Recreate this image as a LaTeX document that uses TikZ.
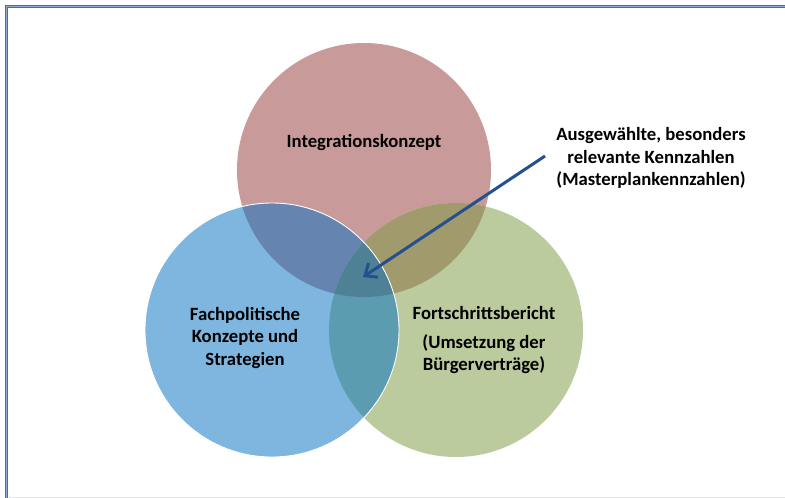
\documentclass[tikz,border=0pt]{standalone}
\usepackage{fontspec}
\setmainfont{Carlito}
\usetikzlibrary{arrows.meta}
\definecolor{cred}{HTML}{C99A9A}
\definecolor{cblue}{HTML}{7EB6DF}
\definecolor{cgreen}{HTML}{BBCB9D}
\definecolor{crb}{HTML}{6584B0}
\definecolor{crg}{HTML}{A19A6C}
\definecolor{cbg}{HTML}{5B9CB1}
\definecolor{crbg}{HTML}{4F8196}
\definecolor{arrowblue}{HTML}{24508E}
\definecolor{framedark}{HTML}{4A6EA3}
\definecolor{framelight}{HTML}{8FA9CF}
\begin{document}
\begin{tikzpicture}[x=1pt,y=-1pt,
  lbl/.style={font=\bfseries\fontsize{18.7}{22.5}\selectfont, align=center, text=black, inner sep=0pt},
  framestyle/.style={draw=framedark, line width=1pt, double=framelight, double distance=1.2pt}]
\useasboundingbox (0,0) rectangle (785,498);
\coordinate (R) at (364,170);
\coordinate (B) at (272,330);
\coordinate (G) at (456,330);
% frame
\draw[framestyle] (6.5,6.5) rectangle (820,540);
\draw[gray!20, line width=0.8pt] (9,497.4) -- (785,497.4);
% base circles
\fill[cred] (R) circle (127);
\fill[cgreen] (G) circle (127);
\fill[cblue] (B) circle (127);
% pairwise overlaps
\begin{scope}
  \clip (R) circle (127);
  \fill[crb] (B) circle (127);
  \fill[crg] (G) circle (127);
\end{scope}
\begin{scope}
  \clip (B) circle (127);
  \fill[cbg] (G) circle (127);
  \clip (G) circle (127);
  \fill[crbg] (R) circle (127);
\end{scope}
% white outline of blue circle
\draw[white, line width=0.9pt] (B) circle (127);
% labels
\node[lbl] (integ) at (364,143) {Integrationskonzept};
\node[lbl] (fach) at (245,338) {Fachpolitische\\Konzepte und\\Strategien};
\node[lbl] (fort) at (484,313) {Fortschrittsbericht};
\node[lbl] (umsetz) at (484,354) {(Umsetzung der\\Bürgerverträge)};
\node[lbl] (kenn) at (651,158) {Ausgewählte, besonders\\relevante Kennzahlen\\(Masterplankennzahlen)};
% arrow
\coordinate (tail) at (545,156);
\coordinate (tip) at (363,277);
\draw[arrowblue, line width=3pt, -{Straight Barb[length=10pt,width=17pt]}] (tail) -- (tip);
\end{tikzpicture}
\end{document}
